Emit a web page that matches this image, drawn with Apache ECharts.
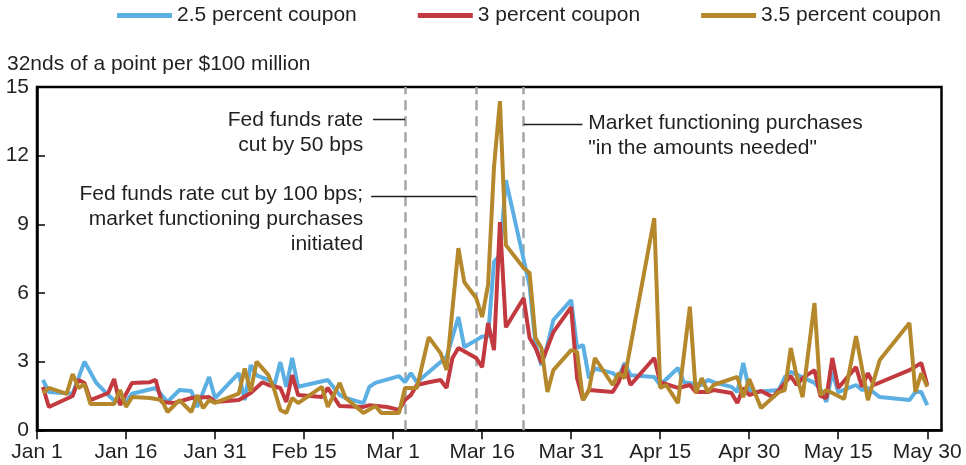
<!DOCTYPE html>
<html>
<head>
<meta charset="utf-8">
<script src="https://cdn.jsdelivr.net/npm/echarts@6/dist/echarts.min.js"></script>
<style>
  html, body { margin: 0; padding: 0; background: #fff; }
  #chart { width: 966px; height: 465px; }
</style>
</head>
<body>
<div id="chart"></div>
<script>
// x values are days since 2020-01-01
const startYear = 2020;
const seriesNames = ['2.5 percent coupon', '3 percent coupon', '3.5 percent coupon'];
const xTickLabels = ['Jan 1', 'Jan 16', 'Jan 31', 'Feb 15', 'Mar 1', 'Mar 16', 'Mar 31', 'Apr 15', 'Apr 30', 'May 15', 'May 30'];
const yTicks = [0, 3, 6, 9, 12, 15];

const blueDays = [1,2,6,8,10,12,13,15,16,20,22,24,26,27,29,30,34,35,36,37,39,40,41,42,43,44,49,51,52,55,56,57,61,62,63,64,69,71,72,74,75,76,77,78,79,83,84,85,86,87,90,91,92,93,94,97,98,99,100,104,105,108,109,112,113,114,117,118,119,120,121,125,126,127,131,132,133,134,135,138,139,140,142,147,148,149,150];
const blueVals = [2.2,1.67,1.6,3.0,2.07,1.54,1.3,1.24,1.6,1.85,1.24,1.76,1.72,1.02,2.33,1.41,2.5,1.32,2.85,2.4,2.2,1.98,2.98,1.9,3.16,1.9,2.2,1.54,1.41,1.19,1.9,2.07,2.37,2.1,2.5,2.1,3.2,4.95,3.64,3.94,4.1,4.1,7.35,7.66,10.93,6.3,3.72,2.85,3.72,4.82,5.69,3.6,3.72,2.28,2.7,2.5,2.28,2.94,2.41,2.33,1.98,2.72,2.1,1.98,2.2,2.1,1.9,1.67,2.94,1.76,1.67,1.76,2.33,2.55,2.07,1.8,1.24,2.55,1.67,1.98,1.76,1.85,1.45,1.32,1.67,1.67,1.1];

const redDays = [1,2,6,7,8,9,12,13,14,16,19,20,21,23,26,29,30,34,36,38,39,41,42,43,44,48,49,51,55,56,59,61,62,63,64,66,68,69,70,71,74,75,76,77,78,79,82,83,84,85,87,90,91,92,93,97,98,99,100,104,105,108,110,111,113,114,117,118,119,120,122,124,127,128,129,131,132,133,134,135,138,139,140,141,147,149,150];
const redVals = [1.9,1.02,1.5,2.2,2.07,1.32,1.63,2.24,1.1,2.07,2.1,2.2,1.24,1.19,1.41,1.45,1.24,1.32,1.63,2.1,1.98,1.85,1.24,2.41,1.54,1.45,1.85,1.06,1.02,1.1,1.02,0.89,1.32,1.54,1.98,2.1,2.2,1.85,3.16,3.6,3.16,2.76,4.69,3.5,9.1,4.5,5.78,4.03,3.6,2.94,4.29,5.38,2.28,1.32,1.76,1.67,2.1,2.85,1.98,3.16,2.1,1.85,1.98,1.67,1.67,1.76,1.63,1.19,1.85,1.54,1.72,1.45,2.37,1.98,2.28,2.63,1.5,1.41,3.16,1.85,2.76,1.9,2.5,1.98,2.63,2.94,1.98];

const goldDays = [1,2,5,6,7,8,9,13,14,15,16,19,21,22,24,26,27,28,29,30,34,35,36,37,39,40,41,42,43,44,48,49,51,52,55,57,58,61,62,64,66,68,69,71,72,74,75,76,77,78,79,82,83,84,85,86,87,90,91,92,93,94,97,98,99,104,105,106,108,110,111,112,113,114,118,119,120,122,125,126,127,128,129,131,132,133,136,138,140,142,147,148,149,150];
const goldVals = [1.63,1.85,1.59,2.46,1.85,2.02,1.15,1.15,1.76,1.02,1.45,1.41,1.32,0.8,1.32,0.8,1.54,0.97,1.32,1.2,1.6,2.7,1.7,3.0,2.41,1.76,0.89,0.76,1.41,1.19,1.9,1.02,2.07,1.41,0.76,1.06,0.76,0.76,1.85,1.85,4.07,3.37,2.63,7.96,6.47,5.78,4.95,6.35,11.5,14.38,8.09,7.09,6.87,4.03,3.6,1.67,2.63,3.5,3.42,1.32,1.76,3.16,1.98,2.5,2.28,9.27,1.85,1.98,1.19,5.4,1.63,2.28,1.67,1.98,2.33,1.45,2.24,0.97,1.67,1.76,3.6,2.37,1.45,5.56,1.54,1.76,1.37,4.12,1.32,3.07,4.69,1.67,2.5,1.9];

// event dates (days since Jan 1): Mar 3, Mar 15, Mar 23
const eventDays = [62, 74, 82];

const colors = ['#5CAFE2', '#C23A3F', '#B5882C'];
const FONT = '"Liberation Sans", Arial, sans-serif';
const TXT = '#231F20';

function pairs(days, vals) { return days.map((d, i) => [d, vals[i]]); }

const chart = echarts.init(document.getElementById('chart'), null, { renderer: 'canvas' });

const dashStyle = { type: [10, 6], color: '#A3A4A8', width: 2.5 };
const connStyle = { type: 'solid', color: '#231F20', width: 1.3 };

const option = {
  animation: false,
  color: colors,
  textStyle: { fontFamily: FONT },
  title: {
    text: '32nds of a point per $100 million',
    left: 7, top: 54, padding: 0,
    textStyle: { fontFamily: FONT, fontSize: 21, fontWeight: 'normal', color: TXT }
  },
  legend: {
    left: 117, top: 5, padding: 0,
    itemWidth: 55, itemHeight: 5, itemGap: 61,
    icon: 'rect',
    data: seriesNames,
    textStyle: { fontFamily: FONT, fontSize: 21, color: TXT }
  },
  grid: {
    left: 37, right: 24.5, top: 87, bottom: 34.7,
    show: true, borderColor: '#000', borderWidth: 2.5, backgroundColor: 'transparent'
  },
  xAxis: {
    type: 'value', min: 0, max: 152.4, interval: 15,
    axisLine: { show: true, lineStyle: { color: '#000', width: 2.5 } },
    axisTick: { show: true, inside: false, length: 9, lineStyle: { color: '#000', width: 1.5 } },
    splitLine: { show: false },
    axisLabel: {
      margin: 11, fontFamily: FONT, fontSize: 21, color: TXT, showMaxLabel: false,
      formatter: v => (Math.abs(v % 15) < 1e-6 ? (xTickLabels[Math.round(v / 15)] || '') : '')
    }
  },
  yAxis: {
    type: 'value', min: yTicks[0], max: yTicks[yTicks.length - 1], interval: 3,
    axisLine: { show: true, lineStyle: { color: '#000', width: 2.5 } },
    axisTick: { show: true, inside: true, length: 8, lineStyle: { color: '#000', width: 1.5 } },
    splitLine: { show: false },
    axisLabel: { margin: 8, fontFamily: FONT, fontSize: 21, color: TXT }
  },
  series: [
    {
      name: seriesNames[0], type: 'line', data: pairs(blueDays, blueVals),
      showSymbol: false, symbol: 'none', lineStyle: { width: 4 }, z: 3,
      markLine: {
        silent: true, symbol: ['none', 'none'], label: { show: false }, z: 1,
        data: [
          ...eventDays.map(d => ({ xAxis: d, lineStyle: dashStyle })),
          [{ coord: [56.6, 13.6], lineStyle: connStyle }, { coord: [eventDays[0], 13.6] }],
          [{ coord: [56.3, 10.21], lineStyle: connStyle }, { coord: [eventDays[1], 10.21] }],
          [{ coord: [eventDays[2], 13.39], lineStyle: connStyle }, { coord: [91.9, 13.39] }]
        ]
      }
    },
    {
      name: seriesNames[1], type: 'line', data: pairs(redDays, redVals),
      showSymbol: false, symbol: 'none', lineStyle: { width: 4 }, z: 4
    },
    {
      name: seriesNames[2], type: 'line', data: pairs(goldDays, goldVals),
      showSymbol: false, symbol: 'none', lineStyle: { width: 4 }, z: 5
    }
  ]
};
chart.setOption(option);

// annotation texts anchored in data coordinates
const notes = [
  { text: 'Fed funds rate\ncut by 50 bps', at: [54.95, 13.02], align: 'right' },
  { text: 'Fed funds rate cut by 100 bps;\nmarket functioning purchases\ninitiated', at: [54.95, 9.22], align: 'right' },
  { text: 'Market functioning purchases\n"in the amounts needed"', at: [92.9, 12.89], align: 'left' }
];
const graphics = notes.map(n => {
  const p = chart.convertToPixel({ gridIndex: 0 }, n.at);
  return {
    type: 'text', x: p[0], y: p[1], z: 10, silent: true,
    style: {
      text: n.text, align: n.align, verticalAlign: 'middle',
      font: '21px ' + FONT, fill: TXT, lineHeight: 25
    }
  };
});
chart.setOption({ graphic: graphics });
</script>
</body>
</html>
